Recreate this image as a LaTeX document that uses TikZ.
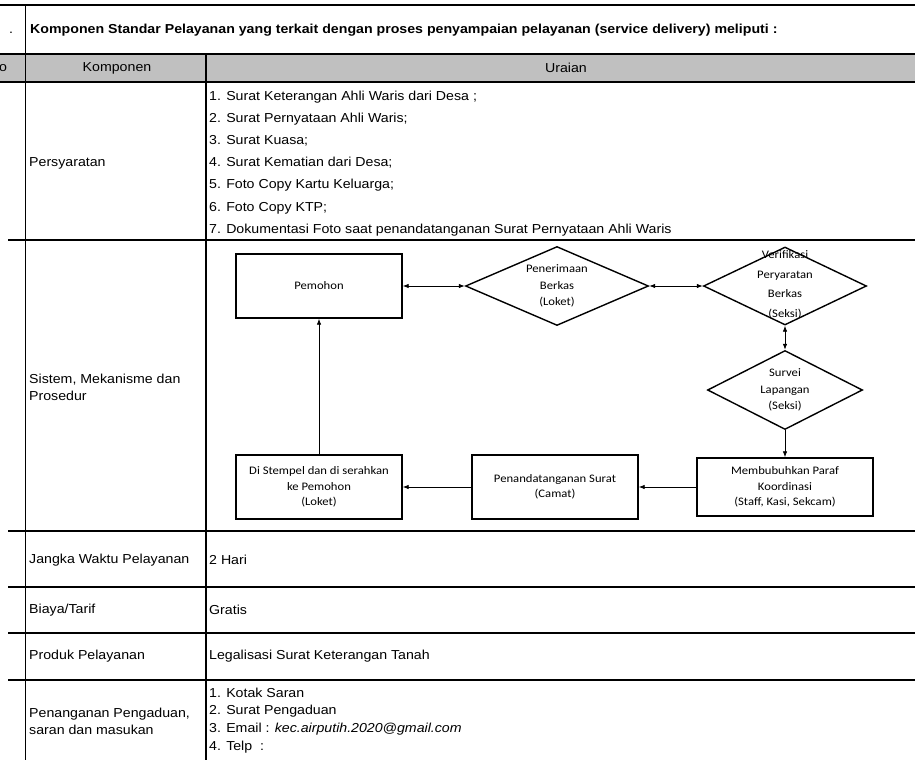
\documentclass[tikz,border=0pt]{standalone}
\usepackage{fontspec}
\setmainfont{Liberation Sans}[FakeStretch=1.09]
\newfontfamily\diagfont{Carlito}[FakeStretch=1.1]
\usepackage{xcolor}
\usetikzlibrary{shapes.geometric,arrows.meta}
\definecolor{hdrgray}{RGB}{192,192,192}

\begin{document}
\begin{tikzpicture}[x=1pt,y=-1pt,
  cell/.style={anchor=west,inner sep=0pt,font=\fontsize{13}{15}\selectfont},
  rule/.style={line width=1.8pt},
  box/.style={draw,line width=1.4pt,minimum width=166pt,minimum height=64pt,inner sep=0pt,align=center,font=\diagfont\fontsize{11.5}{15.5}\selectfont},
  decision/.style={diamond,draw,line width=1.4pt,inner sep=0pt,align=center,font=\diagfont\fontsize{11.5}{16.5}\selectfont},
  flow/.style={line width=0.8pt,-{Latex[length=6pt,width=4.5pt]}},
  biflow/.style={line width=0.8pt,{Latex[length=6pt,width=4.5pt]}-{Latex[length=6pt,width=4.5pt]}}]
\useasboundingbox (0,0) rectangle (915,760);
% table
\fill[hdrgray] (0,54) rectangle (915,82);
\draw[rule] (0,5) -- (915,5);
\draw[rule] (0,54) -- (915,54);
\draw[rule] (0,82) -- (915,82);
\draw[rule] (8,240) -- (915,240);
\draw[rule] (8,531) -- (915,531);
\draw[rule] (8,587) -- (915,587);
\draw[rule] (8,633) -- (915,633);
\draw[rule] (8,680) -- (915,680);
\draw[line width=1.4pt] (25.5,5) -- (25.5,760);
\draw[line width=1.4pt] (206,54) -- (206,760);

\node[cell] (dot) at (9,33) {.};
\node[cell] (no) at (-1,68) {o};
\node[cell,font=\bfseries\fontsize{13}{15}\selectfont] (judul) at (30,30) {Komponen Standar Pelayanan yang terkait dengan proses penyampaian pelayanan (service delivery) meliputi :};
\node[cell,anchor=center] (hkomp) at (117,68) {Komponen};
\node[cell,anchor=center] (hurai) at (566,68) {Uraian};

\node[cell] (syarat) at (29,163) {Persyaratan};
\node[cell] (s1) at (209,97) {1. Surat Keterangan Ahli Waris dari Desa ;};
\node[cell] (s2) at (209,119) {2. Surat Pernyataan Ahli Waris;};
\node[cell] (s3) at (209,141) {3. Surat Kuasa;};
\node[cell] (s4) at (209,163) {4. Surat Kematian dari Desa;};
\node[cell] (s5) at (209,185) {5. Foto Copy Kartu Keluarga;};
\node[cell] (s6) at (209,208) {6. Foto Copy KTP;};
\node[cell] (s7) at (209,230) {7. Dokumentasi Foto saat penandatanganan Surat Pernyataan Ahli Waris};

\node[cell,align=left,font=\fontsize{13}{17}\selectfont] (sistem) at (29,387) {Sistem, Mekanisme dan\\Prosedur};

\node[cell] (jangka) at (29,560) {Jangka Waktu Pelayanan};
\node[cell] (hari) at (209,560) {2 Hari};
\node[cell] (biaya) at (29,610) {Biaya/Tarif};
\node[cell] (gratis) at (209,610) {Gratis};
\node[cell] (produk) at (29,656) {Produk Pelayanan};
\node[cell] (legal) at (209,656) {Legalisasi Surat Keterangan Tanah};
\node[cell,align=left,font=\fontsize{13}{17}\selectfont] (aduan) at (29,721) {Penanganan Pengaduan,\\saran dan masukan};
\node[cell] (p1) at (209,693) {1. Kotak Saran};
\node[cell] (p2) at (209,711) {2. Surat Pengaduan};
\node[cell] (p3) at (209,729) {3. Email : \textit{kec.airputih.2020@gmail.com}};
\node[cell] (p4) at (209,747) {4. Telp\ \ :};

% flow chart
\node[box] (pemohon) at (319,286) {Pemohon};
\node[decision,minimum width=183pt,minimum height=79pt,aspect=2.3] (terima) at (557,286) {Penerimaan\\Berkas\\(Loket)};
\node[decision,minimum width=163pt,minimum height=78pt] (verif) at (785,286) {};
\node[align=center,inner sep=0pt,font=\diagfont\fontsize{11.5}{19.5}\selectfont] (veriftxt) at (785,285) {Verifikasi\\Peryaratan\\Berkas\\(Seksi)};
\node[decision,minimum width=155pt,minimum height=79pt,aspect=1.96] (survei) at (785,390) {Survei\\Lapangan\\(Seksi)};
\node[box,minimum width=176pt,minimum height=58pt] (paraf) at (785,487) {Membubuhkan Paraf\\Koordinasi\\(Staff, Kasi, Sekcam)};
\node[box] (ttd) at (555,487) {Penandatanganan Surat\\(Camat)};
\node[box] (stempel) at (319,487) {Di Stempel dan di serahkan\\ke Pemohon\\(Loket)};

\draw[biflow] (pemohon.east) -- (terima.west);
\draw[biflow] (terima.east) -- (verif.west);
\draw[biflow] (verif.south) -- (survei.north);
\draw[flow] (survei.south) -- (paraf.north);
\draw[flow] (paraf.west) -- (ttd.east);
\draw[flow] (ttd.west) -- (stempel.east);
\draw[flow] (stempel.north) -- (pemohon.south);
\end{tikzpicture}
\end{document}
